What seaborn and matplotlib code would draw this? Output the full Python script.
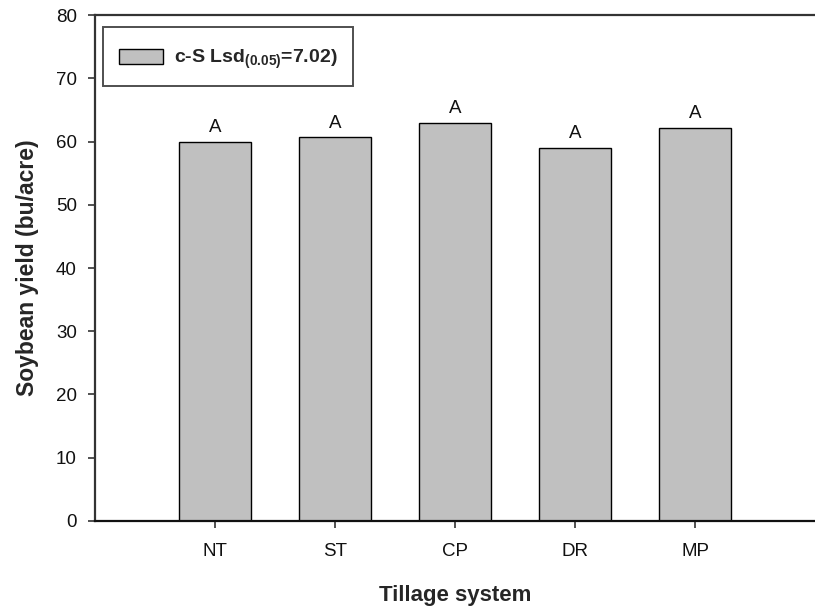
import pandas as pd
import matplotlib
matplotlib.use('Agg')
import matplotlib.pyplot as plt
from matplotlib.patches import Rectangle
from matplotlib.legend_handler import HandlerPatch
import seaborn as sns

# Data
systems = ['NT', 'ST', 'CP', 'DR', 'MP']
yields = [60.0, 60.7, 63.0, 59.0, 62.2]
letters = ['A', 'A', 'A', 'A', 'A']
legend_label = 'c-S Lsd$_{(0.05)}$=7.02)'
y_ticks = [0, 10, 20, 30, 40, 50, 60, 70, 80]

df = pd.DataFrame({'System': systems, 'Yield': yields})

sns.set_style('ticks')
plt.rcParams['font.family'] = ['Liberation Sans', 'DejaVu Sans']
plt.rcParams['mathtext.fontset'] = 'custom'
plt.rcParams['mathtext.bf'] = 'Liberation Sans:bold'
plt.rcParams['mathtext.rm'] = 'Liberation Sans:bold'
plt.rcParams['mathtext.default'] = 'bf'

fig = plt.figure(figsize=(8.15, 6.1), dpi=100)
ax = fig.add_axes([0.1166, 0.1464, 0.8834, 0.8285])

sns.barplot(data=df, x='System', y='Yield', color='#c0c0c0', saturation=1,
            edgecolor='black', linewidth=1.0, width=0.6, ax=ax)

# letters above bars
for i, (v, t) in enumerate(zip(yields, letters)):
    ax.annotate(t, (i, v), xytext=(0, 4), textcoords='offset points',
                ha='center', va='bottom', fontsize=13.5, color='#111111')

ax.set_xlim(-1, 5)
ax.set_ylim(0, 80)
ax.set_yticks(y_ticks)
ax.set_xlabel('Tillage system', fontsize=16, fontweight='bold', labelpad=18)
ax.set_ylabel('Soybean yield (bu/acre)', fontsize=16.5, fontweight='bold', labelpad=12)
ax.tick_params(axis='both', labelsize=13.5, length=5, width=1.2, color='#333333',
               labelcolor='#111111')
ax.tick_params(axis='x', pad=11)
ax.tick_params(axis='y', pad=8)

ax.spines['right'].set_visible(False)
for s in ['top', 'bottom', 'left']:
    ax.spines[s].set_linewidth(1.6)
    ax.spines[s].set_color('#333333')
ax.spines['bottom'].set_color('#111111')


# legend swatch smaller than its handle box, so the frame is taller
def small_rect(legend, orig_handle, xdescent, ydescent, width, height, fontsize):
    h = 10.8
    return Rectangle((-xdescent, -ydescent + (height - h) / 2), width, h)


leg = ax.legend(handles=[ax.patches[0]], labels=[legend_label],
                handler_map={Rectangle: HandlerPatch(patch_func=small_rect)},
                loc='upper left', bbox_to_anchor=(0.011, 0.977), borderaxespad=0,
                fontsize=14, frameon=True, fancybox=False, borderpad=0.8,
                handlelength=2.3, handleheight=1.8, handletextpad=0.57)
leg.get_frame().set_edgecolor('#222222')
leg.get_frame().set_linewidth(1.4)
for txt in leg.get_texts():
    txt.set_fontweight('bold')

fig.savefig('out.png', dpi=100)
